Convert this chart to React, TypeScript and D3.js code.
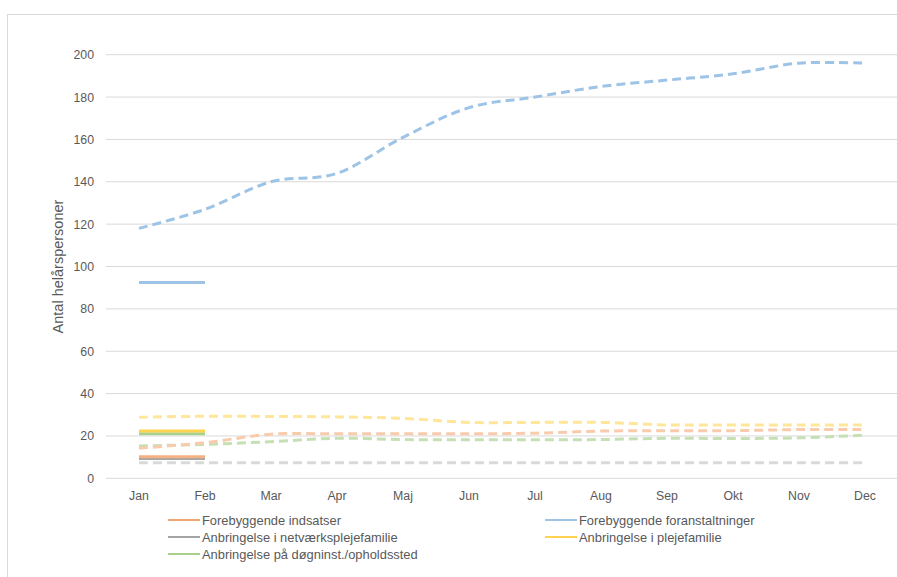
import React from "react";
import * as d3 from "d3";

const months = ["Jan", "Feb", "Mar", "Apr", "Maj", "Jun", "Jul", "Aug", "Sep", "Okt", "Nov", "Dec"];
const yTicks = [0, 20, 40, 60, 80, 100, 120, 140, 160, 180, 200];

// Forecast (dashed) series
const forebyggendeForanstaltningerPrognose = [118, 127, 140, 144, 161, 175, 180, 185, 188, 191, 196, 196];
const plejefamiliePrognose = [28.8, 29.3, 29.2, 29, 28.3, 26.4, 26.4, 26.4, 25.2, 25.2, 25.2, 25.2];
const forebyggendeIndsatserPrognose = [14.2, 16.8, 20.8, 21, 21, 21, 21.3, 22.3, 22.4, 22.5, 23, 23];
const doegninstPrognose = [15.3, 16, 17.3, 18.9, 18.3, 18.2, 18.2, 18.3, 18.9, 18.8, 19.1, 20.4];
const netvaerkPrognose = [7.4, 7.4, 7.4, 7.4, 7.4, 7.4, 7.4, 7.4, 7.4, 7.4, 7.4, 7.4];

// Actual (solid) series, Jan-Feb
const forebyggendeForanstaltningerFaktisk = [92.5, 92.5];
const plejefamilieFaktisk = [22.3, 22.3];
const doegninstFaktisk = [21, 21];
const forebyggendeIndsatserFaktisk = [10.2, 10.2];
const netvaerkFaktisk = [9.4, 9.4];

const legendLabels = [
  "Forebyggende indsatser",
  "Forebyggende foranstaltninger",
  "Anbringelse i netværksplejefamilie",
  "Anbringelse i plejefamilie",
  "Anbringelse på døgninst./opholdssted",
];
const legendColors = ["#F4A574", "#9DC3E6", "#A5A5A5", "#FFD34F", "#A9D18E"];

const W = 897;
const H = 577;
const plotLeft = 106;
const plotRight = 898;
const plotTop = 54.7;
const plotBottom = 478.3;
const font = "'Liberation Sans', Arial, sans-serif";
const textColor = "#595959";

export default function App() {
  const x = d3.scaleBand<string>().domain(months).range([plotLeft, plotRight]).padding(0);
  const cx = (m: string) => (x(m) as number) + x.bandwidth() / 2;
  const y = d3.scaleLinear().domain([0, 200]).range([plotBottom, plotTop]);

  const line = d3
    .line<number>()
    .x((_, i) => cx(months[i]))
    .y((d) => y(d))
    .curve(d3.curveCardinal.tension(0));

  const dashed = [
    { data: netvaerkPrognose, color: "#D9D9D9" },
    { data: doegninstPrognose, color: "#C5E0B4" },
    { data: forebyggendeIndsatserPrognose, color: "#F8CBAD" },
    { data: plejefamiliePrognose, color: "#FFE699" },
    { data: forebyggendeForanstaltningerPrognose, color: "#9DC3E6" },
  ];
  const solid = [
    { data: forebyggendeForanstaltningerFaktisk, color: "#9DC3E6" },
    { data: netvaerkFaktisk, color: "#A5A5A5" },
    { data: forebyggendeIndsatserFaktisk, color: "#F4B183" },
    { data: doegninstFaktisk, color: "#A9D18E" },
    { data: plejefamilieFaktisk, color: "#FFD34F" },
  ];

  const legendPos = [
    { lx: 168, ty: 520 },
    { lx: 545, ty: 520 },
    { lx: 168, ty: 537 },
    { lx: 545, ty: 537 },
    { lx: 168, ty: 554 },
  ];

  return (
    <svg width={W} height={H} style={{ position: "absolute", left: 0, top: 0, background: "#fff" }}>
      <rect x={7.5} y={14.5} width={W + 20} height={H + 20} fill="#fff" stroke="#D9D9D9" strokeWidth={1} />
      {yTicks.map((t) => (
        <g key={t}>
          <line x1={plotLeft} x2={plotRight} y1={y(t)} y2={y(t)} stroke="#D9D9D9" strokeWidth={1} />
          <text x={94} y={y(t) + 4.5} textAnchor="end" fontFamily={font} fontSize={12.3} fill={textColor}>
            {t}
          </text>
        </g>
      ))}
      {months.map((m) => (
        <text key={m} x={cx(m)} y={499.5} textAnchor="middle" fontFamily={font} fontSize={12.3} fill={textColor}>
          {m}
        </text>
      ))}
      <text
        transform={`translate(63,${(plotTop + plotBottom) / 2}) rotate(-90)`}
        textAnchor="middle"
        fontFamily={font}
        fontSize={14.5}
        fill={textColor}
      >
        Antal helårspersoner
      </text>
      {dashed.map((s, i) => (
        <path
          key={"d" + i}
          d={line(s.data) || ""}
          fill="none"
          stroke={s.color}
          strokeWidth={3}
          strokeDasharray="9,5"
        />
      ))}
      {solid.map((s, i) => (
        <path key={"s" + i} d={line(s.data) || ""} fill="none" stroke={s.color} strokeWidth={3} />
      ))}
      {legendLabels.map((l, i) => (
        <g key={l}>
          <line
            x1={legendPos[i].lx}
            x2={legendPos[i].lx + 32}
            y1={legendPos[i].ty}
            y2={legendPos[i].ty}
            stroke={legendColors[i]}
            strokeWidth={2}
          />
          <text x={legendPos[i].lx + 34} y={legendPos[i].ty + 4.5} fontFamily={font} fontSize={12.9} fill={textColor}>
            {l}
          </text>
        </g>
      ))}
    </svg>
  );
}
